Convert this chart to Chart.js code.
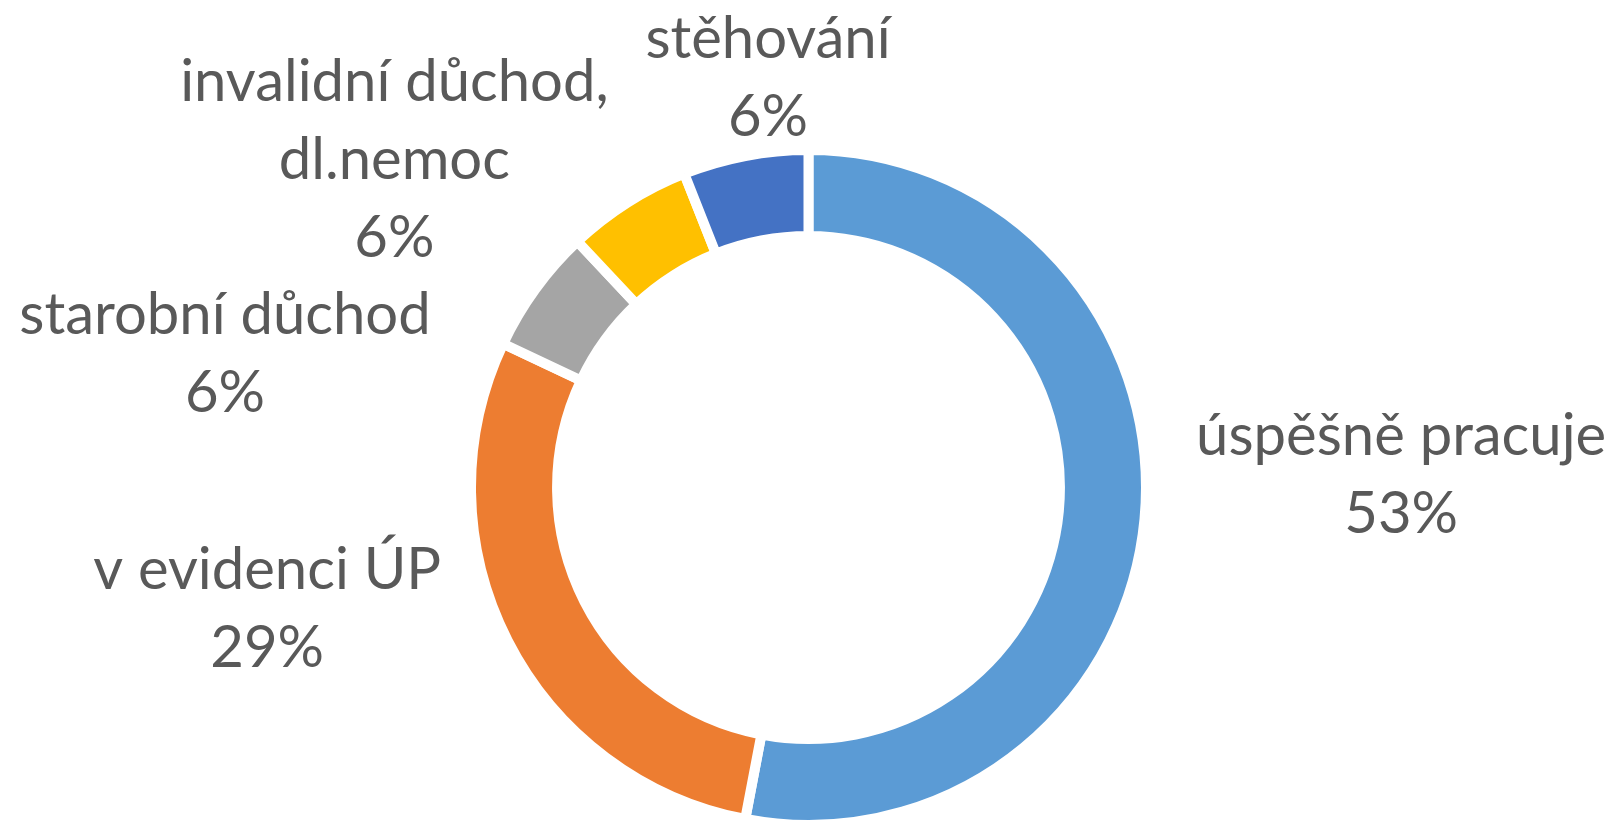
<!DOCTYPE html>
<html>
<head>
<meta charset="utf-8">
<script src="https://cdn.jsdelivr.net/npm/chart.js@4.4.0/dist/chart.umd.min.js"></script>
<style>
  html, body { margin: 0; padding: 0; background: #ffffff; }
  #wrap { width: 1617px; height: 821px; position: relative; }
</style>
</head>
<body>
<div id="wrap"><canvas id="myChart"></canvas></div>
<script>
// Kategorie a hodnoty (procenta)
const categories = ["úspěšně pracuje", "v evidenci ÚP", "starobní důchod", ["invalidní důchod,", "dl.nemoc"], "stěhování"];
const values = [53, 29, 6, 6, 6];
const colors = ["#5B9BD5", "#ED7D31", "#A5A5A5", "#FFC000", "#4472C4"];

// Posun popisku od stredu prstence, v nasobcich polomeru
const labelOffsets = [[1.756, 0.019], [-1.604, 0.416], [-1.729, -0.338], [-1.227, -0.914], [-0.12, -1.156]];

// Popisky mimo prstenec: nazev + procento
const outsideLabels = {
    id: "outsideLabels",
    afterDraw(chart) {
        const ctx = chart.ctx;
        const meta = chart.getDatasetMeta(0);
        const data = chart.data.datasets[0].data;
        const total = data.reduce((a, b) => a + b, 0);
        const lineH = 78;
        ctx.save();
        ctx.font = "58px Lato";
        ctx.fillStyle = "#595959";
        ctx.textAlign = "center";
        ctx.textBaseline = "alphabetic";
        meta.data.forEach((arc, i) => {
            const name = chart.data.labels[i];
            let lines = Array.isArray(name) ? name.slice() : [name];
            lines.push(Math.round(data[i] / total * 100) + "%");
            const x = arc.x + labelOffsets[i][0] * arc.outerRadius;
            const y = arc.y + labelOffsets[i][1] * arc.outerRadius;
            let y0 = y - (lines.length - 1) * lineH / 2;
            lines.forEach((t, k) => ctx.fillText(t, x, y0 + k * lineH));
        });
        ctx.restore();
    }
};

let ctx = document.getElementById("myChart");
let myChart = new Chart(ctx, {
    type: "doughnut",
    data: {
        labels: categories,
        datasets: [{
            data: values,
            backgroundColor: colors,
            borderColor: "#ffffff",
            borderWidth: 10
        }]
    },
    options: {
        responsive: true,
        maintainAspectRatio: false,
        animation: false,
        radius: 337.5,
        cutout: "74.5%",
        layout: { padding: { top: 154, bottom: 0, left: 0, right: 0 } },
        plugins: {
            legend: { display: false },
            tooltip: { enabled: false }
        }
    },
    plugins: [outsideLabels]
});
</script>
</body>
</html>
